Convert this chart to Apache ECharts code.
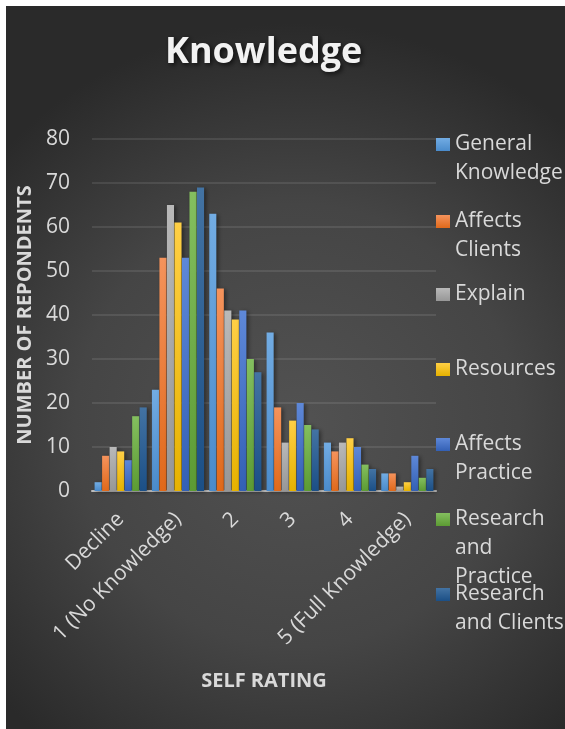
<!DOCTYPE html>
<html>
<head>
<meta charset="utf-8">
<title>Knowledge</title>
<script src="https://cdn.jsdelivr.net/npm/echarts@6/dist/echarts.min.js"></script>
<style>
  html, body { margin: 0; padding: 0; background: #ffffff; }
  #chart { width: 565px; height: 729px; }
</style>
</head>
<body>
<div id="chart"></div>
<script>
// Self-rating categories on the x axis
const categories = ['Decline', '1 (No Knowledge)', '2', '3', '4', '5 (Full Knowledge)'];

// Number of respondents per self-rating, one array per question
const generalKnowledge = [2, 23, 63, 36, 11, 4];
const affectsClients   = [8, 53, 46, 19, 9, 4];
const explain          = [10, 65, 41, 11, 11, 1];
const resources        = [9, 61, 39, 16, 12, 2];
const affectsPractice  = [7, 53, 41, 20, 10, 8];
const researchPractice = [17, 68, 30, 15, 6, 3];
const researchClients  = [19, 69, 27, 14, 5, 5];

// Legend labels, with the line breaks used in the side legend
const seriesNames = [
  'General Knowledge', 'Affects Clients', 'Explain', 'Resources',
  'Affects Practice', 'Research and Practice', 'Research and Clients'
];
const legendLines = [
  ['General', 'Knowledge'],
  ['Affects', 'Clients'],
  ['Explain'],
  ['Resources'],
  ['Affects', 'Practice'],
  ['Research', 'and', 'Practice'],
  ['Research', 'and Clients']
];

const yTicks = { min: 0, max: 80, interval: 10 };

const seriesData = [generalKnowledge, affectsClients, explain, resources,
                    affectsPractice, researchPractice, researchClients];

// Top / bottom colours of each bar's vertical gradient
const barColors = [
  ['#72ace3', '#4a8bcb'],
  ['#f5935c', '#e0691a'],
  ['#b9b9b9', '#979797'],
  ['#ffcf45', '#e6b200'],
  ['#5e88d8', '#3360b5'],
  ['#84bf5f', '#5c9b33'],
  ['#4373a3', '#1b4f86']
];

const textColor = '#d9d9d9';
const fontFamily = '"Open Sans", "DejaVu Sans", sans-serif';

const chart = echarts.init(document.getElementById('chart'), null, { renderer: 'canvas' });

const series = seriesNames.map((name, i) => ({
  name: name,
  type: 'bar',
  data: seriesData[i],
  barGap: '6%',
  barCategoryGap: '9%',
  itemStyle: {
    color: new echarts.graphic.LinearGradient(0, 0, 0, 1, [
      { offset: 0, color: barColors[i][0] },
      { offset: 1, color: barColors[i][1] }
    ]),
    shadowColor: 'rgba(0,0,0,0.45)',
    shadowBlur: 4,
    shadowOffsetX: 2,
    shadowOffsetY: 1
  },
  emphasis: { disabled: true }
}));

// One legend block per series so the swatch sits beside the first line
const lineHeight = 29;
const firstLineCenters = [144.5, 221.5, 294.5, 369.5, 444.5, 519.5, 594.5];
const legends = seriesNames.map((name, i) => {
  const lines = legendLines[i];
  const padded = new Array(lines.length - 1).fill('').concat(lines);
  const blockHeight = lineHeight * padded.length;
  return {
    data: [name],
    orient: 'vertical',
    left: 436,
    top: firstLineCenters[i] - blockHeight / 2,
    padding: 0,
    itemWidth: 14,
    itemHeight: 13,
    icon: 'rect',
    selectedMode: false,
    formatter: () => padded.join('\n'),
    textStyle: {
      color: textColor,
      fontSize: 21,
      lineHeight: lineHeight,
      fontFamily: fontFamily
    }
  };
});

const option = {
  animation: false,
  backgroundColor: '#ffffff',
  graphic: [{
    type: 'rect',
    z: -100,
    silent: true,
    shape: { x: 6, y: 6, width: 559, height: 723 },
    style: {
      fill: new echarts.graphic.RadialGradient(0.52, 0.58, 0.72, [
        { offset: 0, color: '#525252' },
        { offset: 0.55, color: '#454545' },
        { offset: 1, color: '#2a2a2a' }
      ])
    }
  }],
  title: {
    text: 'Knowledge',
    left: 165,
    top: 35,
    padding: 0,
    textStyle: {
      color: '#f2f2f2',
      fontSize: 36,
      fontWeight: 'bold',
      fontFamily: fontFamily,
      textShadowColor: 'rgba(0,0,0,0.7)',
      textShadowBlur: 5,
      textShadowOffsetX: 2,
      textShadowOffsetY: 2
    }
  },
  legend: legends,
  grid: {
    left: 92,
    right: 129,
    top: 139,
    bottom: 238
  },
  xAxis: {
    type: 'category',
    data: categories,
    name: 'SELF RATING',
    nameLocation: 'middle',
    nameGap: 180,
    nameTextStyle: {
      color: textColor,
      fontSize: 20,
      fontWeight: 'bold',
      fontFamily: fontFamily
    },
    axisLine: { show: true, lineStyle: { color: '#bfbfbf', width: 2 } },
    axisTick: { show: false },
    axisLabel: {
      interval: 0,
      rotate: 45,
      margin: 25,
      color: textColor,
      fontSize: 21,
      fontFamily: fontFamily
    },
    splitLine: { show: false }
  },
  yAxis: {
    type: 'value',
    min: yTicks.min,
    max: yTicks.max,
    interval: yTicks.interval,
    name: 'NUMBER OF REPONDENTS',
    nameLocation: 'middle',
    nameGap: 57,
    nameRotate: 90,
    nameTextStyle: {
      color: textColor,
      fontSize: 20,
      fontWeight: 'bold',
      fontFamily: fontFamily
    },
    axisLine: { show: false },
    axisTick: { show: false },
    axisLabel: {
      margin: 22,
      color: textColor,
      fontSize: 21,
      fontFamily: fontFamily
    },
    splitLine: {
      show: true,
      lineStyle: { color: 'rgba(255,255,255,0.13)', width: 1.5 }
    }
  },
  series: series
};

chart.setOption(option);
</script>
</body>
</html>
